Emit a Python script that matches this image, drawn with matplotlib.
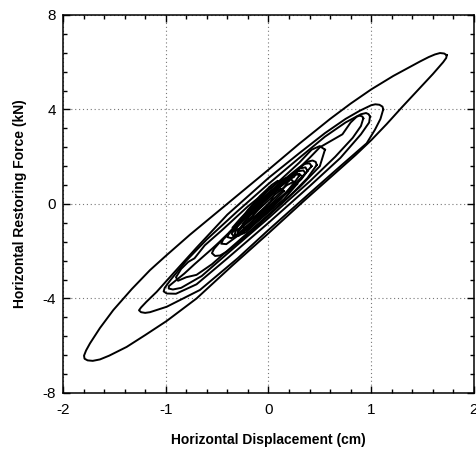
import matplotlib.pyplot as plt
from matplotlib.ticker import MultipleLocator

plt.rcParams["font.family"] = ["Liberation Sans", "DejaVu Sans"]

# hysteresis loops, (displacement cm, force kN)
LOOP_A = [(1.735, 6.3), (1.71, 6.37), (1.67, 6.39), (1.62, 6.33), (1.56, 6.22),
          (1.474, 6.03), (1.215, 5.42), (1.0, 4.85), (0.8, 4.25), (0.6, 3.6),
          (0.3, 2.55), (0.0, 1.45), (-0.25, 0.55), (-0.5, -0.35), (-0.764, -1.3),
          (-1.0, -2.2), (-1.153, -2.8), (-1.33, -3.6), (-1.51, -4.49), (-1.64, -5.25),
          (-1.737, -5.9), (-1.775, -6.2), (-1.795, -6.42), (-1.79, -6.55), (-1.76, -6.62),
          (-1.71, -6.64), (-1.64, -6.58), (-1.55, -6.42), (-1.38, -6.05), (-1.2, -5.55),
          (-0.99, -4.95), (-0.7, -4.0), (-0.35, -2.6), (0.0, -1.24), (0.35, 0.15),
          (0.7, 1.5), (0.85, 2.08), (1.0, 2.7), (1.15, 3.38), (1.3, 4.1),
          (1.45, 4.8), (1.6, 5.5), (1.66, 5.8), (1.70, 6.0), (1.73, 6.18), (1.735, 6.3)]
LOOP_B = [(1.117, 4.0), (1.11, 4.12), (1.08, 4.2), (1.04, 4.22), (1.0, 4.18),
          (0.89, 3.95), (0.75, 3.6), (0.55, 3.0), (0.3, 2.15), (0.0, 1.1),
          (-0.4, -0.45), (-0.7, -1.85), (-0.96, -3.1), (-1.088, -3.72), (-1.19, -4.15),
          (-1.24, -4.38), (-1.26, -4.5), (-1.24, -4.58), (-1.2, -4.61), (-1.153, -4.58),
          (-0.99, -4.35), (-0.667, -3.64), (-0.3, -2.3), (0.0, -1.1), (0.4, 0.45),
          (0.7, 1.6), (0.956, 2.57), (1.036, 3.14), (1.09, 3.6), (1.117, 4.0)]
LOOP_C = [(0.988, 3.7), (0.975, 3.8), (0.95, 3.85), (0.90, 3.8), (0.75, 3.45),
          (0.55, 2.85), (0.3, 1.95), (0.0, 0.85), (-0.3, -0.3), (-0.6, -1.5),
          (-0.8, -2.4), (-0.95, -3.2), (-1.01, -3.55), (-1.02, -3.7), (-0.99, -3.79),
          (-0.9, -3.8), (-0.7, -3.4), (-0.4, -2.3), (0.0, -0.8), (0.4, 0.75),
          (0.7, 1.95), (0.9, 2.95), (0.98, 3.45), (0.988, 3.7)]
LOOP_D = [(0.923, 3.62), (0.915, 3.7), (0.89, 3.74), (0.86, 3.7), (0.80, 3.45),
          (0.72, 2.95), (0.62, 2.7), (0.50, 2.4), (0.40, 1.95), (0.2, 1.1),
          (0.0, 0.3), (-0.3, -0.9), (-0.55, -1.9), (-0.72, -2.55), (-0.82, -2.95),
          (-0.92, -3.3), (-0.97, -3.48), (-0.97, -3.58), (-0.93, -3.62), (-0.85, -3.55),
          (-0.65, -3.05), (-0.4, -2.1), (0.0, -0.6), (0.4, 0.95), (0.65, 2.0),
          (0.82, 2.8), (0.9, 3.3), (0.923, 3.62)]
LOOP_E = [(0.47, 1.65), (0.46, 1.78), (0.43, 1.84), (0.39, 1.8), (0.3, 1.55),
          (0.1, 0.85), (-0.1, 0.1), (-0.3, -0.85), (-0.45, -1.5), (-0.53, -1.9),
          (-0.55, -2.08), (-0.52, -2.2), (-0.47, -2.18), (-0.4, -2.0), (-0.2, -1.3),
          (0.0, -0.5), (0.2, 0.3), (0.38, 1.1), (0.47, 1.65)]
LOOP_F = [(0.38, 1.4), (0.36, 1.55), (0.30, 1.5), (0.25, 1.15), (0.15, 0.9),
          (0.05, 0.55), (-0.1, 0.0), (-0.2, -0.5), (-0.3, -0.95), (-0.36, -1.25),
          (-0.33, -1.4), (-0.25, -1.2), (-0.1, -0.65), (0.05, -0.05), (0.2, 0.55),
          (0.32, 1.05), (0.38, 1.4)]
LOOP_G = [(0.25, 0.9), (0.22, 1.05), (0.15, 0.85), (0.0, 0.35), (-0.15, -0.3),
          (-0.25, -0.85), (-0.24, -1.02), (-0.15, -0.8), (0.0, -0.3), (0.12, 0.2),
          (0.25, 0.9)]
LOOP_H = [(0.15, 0.55), (0.12, 0.65), (0.05, 0.45), (-0.05, 0.05), (-0.15, -0.45),
          (-0.14, -0.58), (-0.05, -0.3), (0.05, 0.1), (0.15, 0.55)]
LOOP_I = [(0.30, 1.2), (0.27, 1.3), (0.2, 1.1), (0.05, 0.6), (-0.1, -0.1),
          (-0.22, -0.7), (-0.3, -1.15), (-0.28, -1.28), (-0.18, -1.0), (-0.05, -0.45),
          (0.1, 0.15), (0.22, 0.7), (0.30, 1.2)]
LOOP_J = [(0.42, 1.6), (0.40, 1.72), (0.35, 1.7), (0.25, 1.3), (0.1, 0.75),
          (-0.05, 0.2), (-0.2, -0.45), (-0.35, -1.1), (-0.44, -1.5), (-0.46, -1.68),
          (-0.41, -1.7), (-0.3, -1.35), (-0.15, -0.8), (0.0, -0.2), (0.15, 0.4),
          (0.3, 1.0), (0.42, 1.6)]
LOOP_K = [(0.12, 0.9), (0.09, 0.98), (0.03, 0.8), (-0.08, 0.35), (-0.2, -0.25),
          (-0.3, -0.9), (-0.33, -1.3), (-0.29, -1.35), (-0.22, -1.0), (-0.1, -0.45),
          (0.02, 0.1), (0.12, 0.9)]
LOOP_L = [(0.33, 1.15), (0.30, 1.28), (0.24, 1.2), (0.12, 0.75), (0.0, 0.3),
          (-0.12, -0.2), (-0.2, -0.55), (-0.19, -0.7), (-0.1, -0.45), (0.05, 0.05),
          (0.2, 0.55), (0.33, 1.15)]
LOOP_M = [(0.28, 0.85), (0.25, 0.95), (0.18, 0.8), (0.05, 0.35), (-0.1, -0.25),
          (-0.22, -0.8), (-0.3, -1.2), (-0.29, -1.33), (-0.22, -1.2), (-0.12, -0.8),
          (0.0, -0.35), (0.15, 0.2), (0.28, 0.85)]
LOOP_N = [(0.2, 1.0), (0.17, 1.1), (0.1, 0.95), (-0.02, 0.5), (-0.15, -0.05),
          (-0.27, -0.6), (-0.35, -1.0), (-0.34, -1.15), (-0.26, -1.0), (-0.14, -0.55),
          (0.0, 0.0), (0.12, 0.5), (0.2, 1.0)]
LOOP_O = [(0.36, 1.3), (0.34, 1.42), (0.28, 1.38), (0.15, 0.95), (0.0, 0.45),
          (-0.15, -0.15), (-0.28, -0.75), (-0.38, -1.2), (-0.4, -1.4), (-0.36, -1.45),
          (-0.28, -1.2), (-0.12, -0.6), (0.05, 0.0), (0.22, 0.65), (0.36, 1.3)]
# wavy inner loop on the lower left
LOOP_W = [(0.55, 2.3), (0.5, 2.45), (0.42, 2.3), (0.3, 1.75), (0.1, 0.95),
          (-0.2, -0.1), (-0.45, -1.1), (-0.62, -1.75), (-0.72, -2.3), (-0.78, -2.45),
          (-0.85, -2.75), (-0.9, -3.1), (-0.88, -3.25), (-0.8, -3.1), (-0.7, -3.0),
          (-0.55, -2.55), (-0.3, -1.6), (0.0, -0.45), (0.3, 0.7), (0.5, 1.6),
          (0.55, 2.3)]
LOOPS = [LOOP_A, LOOP_B, LOOP_C, LOOP_D, LOOP_E, LOOP_F, LOOP_G, LOOP_H, LOOP_I,
         LOOP_J, LOOP_K, LOOP_L, LOOP_M, LOOP_N, LOOP_O, LOOP_W]

X_TICKS = [-2, -1, 0, 1, 2]
Y_TICKS = [-8, -4, 0, 4, 8]

fig = plt.figure(figsize=(4.77, 4.53), dpi=100)
ax = fig.add_axes([0.132, 0.1325, 0.8616, 0.8344])

for loop in LOOPS:
    xs = [p[0] for p in loop]
    ys = [p[1] for p in loop]
    ax.plot(xs, ys, color="black", linewidth=1.4, solid_joinstyle="round")

ax.set_xlim(-2, 2)
ax.set_ylim(-8, 8)
ax.set_xticks(X_TICKS)
ax.set_yticks(Y_TICKS)
ax.set_xticklabels([str(t) for t in X_TICKS])
ax.set_yticklabels([str(t) for t in Y_TICKS])
ax.xaxis.set_minor_locator(MultipleLocator(0.2))
ax.yaxis.set_minor_locator(MultipleLocator(0.8))
ax.tick_params(which="both", direction="in", top=True, right=True, width=1.0,
               labelsize=11, colors="black")
ax.tick_params(which="major", length=5)
ax.tick_params(which="minor", length=3)
ax.tick_params(axis="x", pad=7)
ax.tick_params(axis="y", pad=5)
ax.grid(True, which="major", linestyle=(0, (1, 2.5)), color="#777777", linewidth=0.8)
for s in ax.spines.values():
    s.set_linewidth(1.1)

ax.set_xlabel("Horizontal Displacement (cm)", fontsize=10, fontweight="bold", labelpad=12)
ax.set_ylabel("Horizontal Restoring Force (kN)", fontsize=10, fontweight="bold", labelpad=11)

fig.savefig("out.png", dpi=100)
